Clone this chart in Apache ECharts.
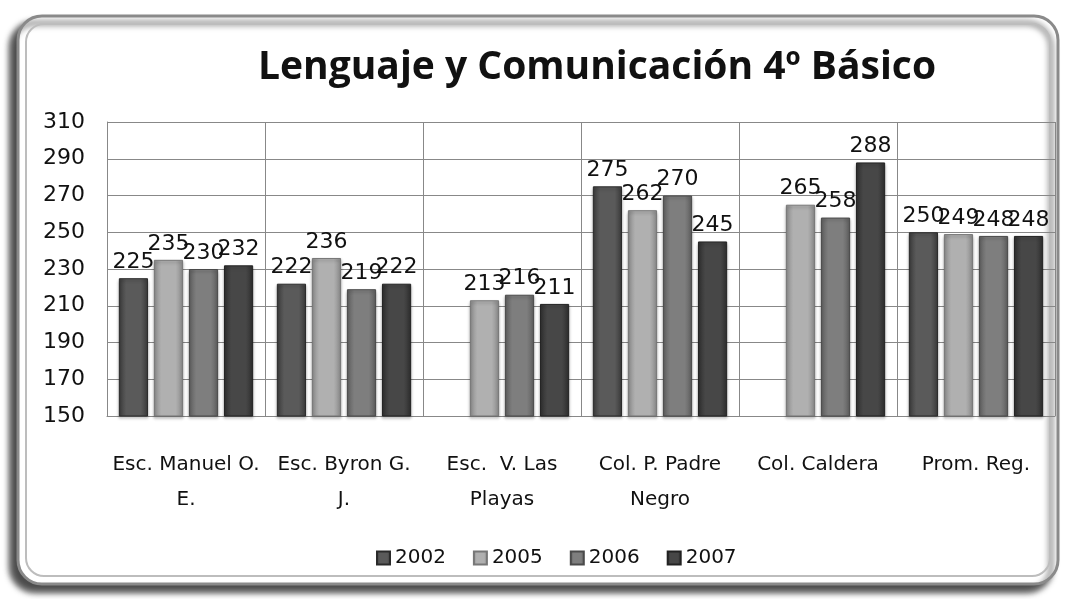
<!DOCTYPE html>
<html>
<head>
<meta charset="utf-8">
<script src="https://cdn.jsdelivr.net/npm/echarts@6/dist/echarts.min.js"></script>
<style>
  html, body { margin: 0; padding: 0; background: #fff; }
  #chart { width: 1071px; height: 599px; }
</style>
</head>
<body>
<div id="chart"></div>
<script>
const categories = ['Esc. Manuel O.\nE.', 'Esc. Byron G.\nJ.', 'Esc.  V. Las\nPlayas', 'Col. P. Padre\nNegro', 'Col. Caldera', 'Prom. Reg.']
const years = ['2002', '2005', '2006', '2007']
const v2002 = [225, 222, 150, 275, 150, 250]
const v2005 = [235, 236, 213, 262, 265, 249]
const v2006 = [230, 219, 216, 270, 258, 248]
const v2007 = [232, 222, 211, 245, 288, 248]
const yTicks = [150, 170, 190, 210, 230, 250, 270, 290, 310]

const chart = echarts.init(document.getElementById('chart'), null, { renderer: 'canvas' })

// grey bevelled bar fill
function barFill(edge, mid) {
  return new echarts.graphic.LinearGradient(0, 0, 1, 0, [
    { offset: 0, color: edge },
    { offset: 0.25, color: mid },
    { offset: 0.75, color: mid },
    { offset: 1, color: edge }
  ])
}

const shades = [
  { edge: '#3a3a3a', mid: '#5a5a5a', border: '#2a2a2a' },
  { edge: '#8a8a8a', mid: '#b0b0b0', border: '#777' },
  { edge: '#5e5e5e', mid: '#7e7e7e', border: '#4a4a4a' },
  { edge: '#2e2e2e', mid: '#474747', border: '#222' }
]
const seriesData = [v2002, v2005, v2006, v2007]

const option = {
  backgroundColor: '#fff',
  animation: false,
  title: {
    text: 'Lenguaje y Comunicación 4º Básico',
    left: 592,
    textAlign: 'center',
    top: 43,
    textStyle: {
      fontFamily: 'Open Sans',
      fontWeight: 'bold',
      fontSize: 39,
      color: '#111'
    }
  },
  graphic: [
    {
      type: 'rect',
      z: -10,
      silent: true,
      shape: { x: 18, y: 16, width: 1040, height: 568, r: 24 },
      style: {
        fill: '#fff',
        stroke: '#8a8a8a',
        lineWidth: 3,
        shadowColor: 'rgba(0,0,0,0.7)',
        shadowBlur: 6,
        shadowOffsetX: -7,
        shadowOffsetY: 7
      }
    },
    {
      type: 'rect',
      z: -9,
      silent: true,
      shape: { x: 26, y: 24, width: 1024, height: 552, r: 18 },
      style: { fill: 'transparent', stroke: '#bdbdbd', lineWidth: 2 }
    }
  ],
  legend: {
    data: years,
    left: 371,
    top: 543,
    itemWidth: 13,
    itemHeight: 13,
    itemGap: 27,
    icon: 'rect',
    textStyle: { fontFamily: 'DejaVu Sans', fontSize: 20, color: '#111' }
  },
  grid: {
    left: 107,
    right: 16,
    top: 122,
    bottom: 183,
    containLabel: false
  },
  xAxis: {
    type: 'category',
    data: categories,
    axisTick: { show: false },
    axisLine: { show: true, lineStyle: { color: '#888', width: 1 } },
    splitLine: { show: true, interval: 0, lineStyle: { color: '#888', width: 1 } },
    axisLabel: {
      interval: 0,
      margin: 31,
      fontFamily: 'DejaVu Sans',
      fontSize: 20,
      lineHeight: 35,
      color: '#111'
    }
  },
  yAxis: {
    type: 'value',
    min: 150,
    max: 310,
    interval: 20,
    axisLine: { show: true, lineStyle: { color: '#888' } },
    axisTick: { show: false },
    splitLine: { lineStyle: { color: '#888', width: 1 } },
    axisLabel: {
      margin: 22,
      fontFamily: 'DejaVu Sans',
      fontSize: 22,
      color: '#111',
      customValues: yTicks
    }
  },
  series: years.map((name, i) => ({
    name: name,
    type: 'bar',
    data: seriesData[i],
    barGap: '20%',
    barCategoryGap: '15%',
    itemStyle: {
      color: barFill(shades[i].edge, shades[i].mid),
      borderColor: shades[i].border,
      borderWidth: 1,
      shadowColor: 'rgba(0,0,0,0.25)',
      shadowBlur: 3,
      shadowOffsetY: 2
    },
    label: {
      show: true,
      position: 'top',
      distance: 5,
      fontFamily: 'DejaVu Sans',
      fontSize: 22,
      color: '#111',
      formatter: p => (p.value > 150 ? p.value : '')
    }
  })),
  color: shades.map(s => s.mid)
}

chart.setOption(option)
</script>
</body>
</html>
